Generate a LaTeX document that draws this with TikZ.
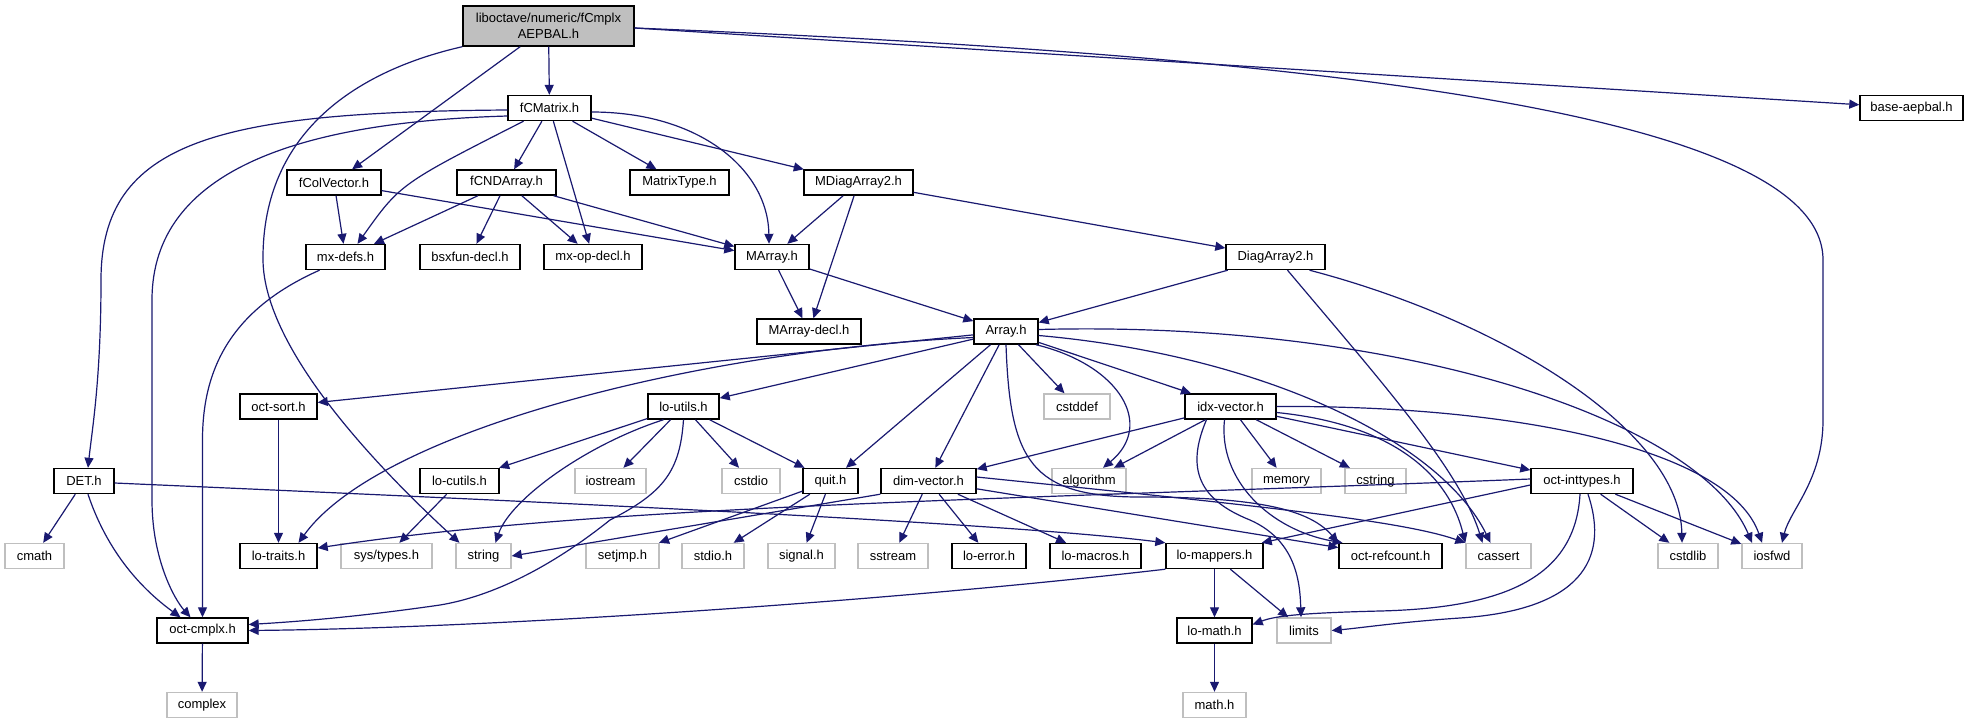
\documentclass[tikz,border=0pt]{standalone}
\usepackage{fontspec}
\setmainfont{Liberation Sans}
\usetikzlibrary{arrows.meta}
\definecolor{edgec}{HTML}{191970}
\definecolor{sysgray}{HTML}{BFBFBF}
\definecolor{rootfill}{HTML}{BFBFBF}
\begin{document}
\begin{tikzpicture}[x=0.5pt,y=-0.5pt,
  box/.style={draw=black, line width=0.7pt, rectangle, inner sep=0pt, minimum height=12.5pt,
    font=\fontsize{6.5}{8}\selectfont, fill=white},
  sys/.style={box, draw=sysgray},
  bw/.style={minimum width=#1*0.5pt},
  dep/.style={draw=edgec, line width=0.6pt, -{Triangle[length=5pt,width=4.5pt]}},
]
\useasboundingbox (0,0) rectangle (1969,724);
\fill[white] (0,0) rectangle (1969,724);

% row 0
\node[box, fill=rootfill, bw=171, minimum height=20pt, align=center] (root) at (548.5,26) {liboctave/numeric/fCmplx\\AEPBAL.h};
% row 1
\node[box, bw=83]  (fCMatrix) at (549.5,108) {fCMatrix.h};
\node[box, bw=103] (base) at (1911.5,108) {base-aepbal.h};
% row 2
\node[box, bw=94]  (fColVector) at (334,182.5) {fColVector.h};
\node[box, bw=99]  (fCNDArray) at (506.5,182.5) {fCNDArray.h};
\node[box, bw=99]  (MatrixType) at (679.5,182.5) {MatrixType.h};
\node[box, bw=109] (MDiagArray2) at (858.5,182.5) {MDiagArray2.h};
% row 3
\node[box, bw=79]  (mxdefs) at (345.5,257) {mx-defs.h};
\node[box, bw=100] (bsxfun) at (470,257) {bsxfun-decl.h};
\node[box, bw=98]  (mxop) at (593,257) {mx-op-decl.h};
\node[box, bw=74]  (MArray) at (772,257) {MArray.h};
\node[box, bw=99]  (DiagArray2) at (1275.5,257) {DiagArray2.h};
% row 4
\node[box, bw=104] (MArraydecl) at (809,331.5) {MArray-decl.h};
\node[box, bw=64]  (Array) at (1006,331.5) {Array.h};
% row 5
\node[box, bw=77]  (octsort) at (278.5,406.5) {oct-sort.h};
\node[box, bw=71]  (loutils) at (683.5,406.5) {lo-utils.h};
\node[sys, bw=66]  (cstddef) at (1077,406.5) {cstddef};
\node[box, bw=91]  (idx) at (1230.5,406.5) {idx-vector.h};
% row 6
\node[box, bw=60]  (DET) at (84,481) {DET.h};
\node[box, bw=79]  (locutils) at (459.5,481) {lo-cutils.h};
\node[sys, bw=71]  (iostream) at (610.5,481) {iostream};
\node[sys, bw=58]  (cstdio) at (751,481) {cstdio};
\node[box, bw=55]  (quit) at (830.5,481) {quit.h};
\node[box, bw=95]  (dimv) at (928.5,481) {dim-vector.h};
\node[sys, bw=74]  (algorithm) at (1089,481) {algorithm};
\node[sys, bw=69]  (memory) at (1286.5,481) {memory};
\node[sys, bw=61]  (cstring) at (1375.5,481) {cstring};
\node[box, bw=102] (inttypes) at (1582,481) {oct-inttypes.h};
% row 7
\node[sys, bw=59]  (cmath) at (34.5,556) {cmath};
\node[box, bw=77]  (lotraits) at (278.5,556) {lo-traits.h};
\node[sys, bw=91]  (systypes) at (386.5,556) {sys/types.h};
\node[sys, bw=55]  (string) at (483.5,556) {string};
\node[sys, bw=73]  (setjmp) at (622.5,556) {setjmp.h};
\node[sys, bw=62]  (stdio) at (713,556) {stdio.h};
\node[sys, bw=67]  (signal) at (801.5,556) {signal.h};
\node[sys, bw=70]  (sstream) at (893,556) {sstream};
\node[box, bw=74]  (loerror) at (989,556) {lo-error.h};
\node[box, bw=91]  (lomacros) at (1095.5,556) {lo-macros.h};
\node[box, bw=97]  (lomappers) at (1214.5,556) {lo-mappers.h};
\node[box, bw=103] (refcount) at (1390.5,556) {oct-refcount.h};
\node[sys, bw=65]  (cassert) at (1498.5,556) {cassert};
\node[sys, bw=60]  (cstdlib) at (1688,556) {cstdlib};
\node[sys, bw=60]  (iosfwd) at (1772,556) {iosfwd};
% row 8
\node[box, bw=91]  (cmplx) at (202.5,630.5) {oct-cmplx.h};
\node[box, bw=75]  (lomath) at (1214.5,630.5) {lo-math.h};
\node[sys, bw=54]  (limits) at (1304,630.5) {limits};
% row 9
\node[sys, bw=70]  (complex) at (202,705) {complex};
\node[sys, bw=63]  (mathh) at (1214.5,705) {math.h};

% ---- edges ----
% root
\draw[dep] (root) -- (fCMatrix);
\draw[dep] (root) -- (fColVector);
\draw[dep] (root.south west) .. controls (360,70) and (262,130) .. (263,260)
   .. controls (264,350) and (380,470) .. ([xshift=-12pt]string.north);
\draw[dep] ([yshift=-1pt]root.east) -- (base);
\draw[dep] ([yshift=-1pt]root.east) .. controls (1300,55) and (1823,110) .. (1823,260)
   -- (1823,420) .. controls (1823,480) and (1790,510) .. ([xshift=5pt]iosfwd.north);
% fCMatrix
\draw[dep] ([yshift=-1pt]fCMatrix.west) .. controls (220,112) and (101,140) .. (101,280)
   .. controls (101,380) and (92,430) .. ([xshift=2pt]DET.north);
\draw[dep] ([yshift=-4pt]fCMatrix.west) .. controls (300,122) and (152,170) .. (152,300)
   -- (152,500) .. controls (152,560) and (175,600) .. ([xshift=-6pt]cmplx.north);
\draw[dep] (fCMatrix) .. controls (400,184) .. ([xshift=6pt]mxdefs.north);
\draw[dep] (fCMatrix) -- (fCNDArray);
\draw[dep] (fCMatrix) -- (mxop);
\draw[dep] (fCMatrix) -- (MatrixType);
\draw[dep] (fCMatrix) -- (MDiagArray2);
\draw[dep] ([yshift=-2pt]fCMatrix.east) .. controls (700,112) and (768,170) .. ([xshift=-1.5pt]MArray.north);
% fColVector
\draw[dep] (fColVector) -- (mxdefs);
\draw[dep] (fColVector) -- (MArray);
% fCNDArray
\draw[dep] (fCNDArray) -- (mxdefs);
\draw[dep] (fCNDArray) -- (bsxfun);
\draw[dep] (fCNDArray) -- (mxop);
\draw[dep] (fCNDArray) -- (MArray);
% MDiagArray2
\draw[dep] (MDiagArray2) -- (MArray);
\draw[dep] (MDiagArray2) -- (MArraydecl);
\draw[dep] (MDiagArray2) -- (DiagArray2);
% MArray
\draw[dep] (MArray) -- (MArraydecl);
\draw[dep] (MArray) -- (Array);
% DiagArray2
\draw[dep] (DiagArray2) -- (Array);
\draw[dep] ([xshift=6pt]DiagArray2.south) .. controls (1380,380) and (1460,470) .. ([xshift=-8pt]cassert.north);
\draw[dep] ([xshift=17pt]DiagArray2.south) .. controls (1500,320) and (1680,430) .. ([xshift=-3pt]cstdlib.north);
% mx-defs
\draw[dep] ([xshift=-13pt]mxdefs.south) .. controls (230,310) and (202.5,370) .. (202.5,440) -- (cmplx.north);
% Array
\draw[dep] (Array) -- (octsort);
\draw[dep] ([yshift=-3pt]Array.west) .. controls (700,350) and (380,430) .. ([xshift=10pt]lotraits.north);
\draw[dep] (Array) -- (loutils);
\draw[dep] (Array) -- (quit);
\draw[dep] (Array) -- (dimv);
\draw[dep] (Array) -- (cstddef);
\draw[dep] ([xshift=15pt]Array.south) .. controls (1120,365) and (1155,425) .. ([xshift=7pt]algorithm.north);
\draw[dep] (Array) -- (idx);
\draw[dep] ([yshift=-2pt]Array.east) .. controls (1260,355) and (1440,440) .. ([xshift=-4pt]cassert.north);
\draw[dep] ([yshift=1pt]Array.east) .. controls (1400,320) and (1700,420) .. ([xshift=-10pt]iosfwd.north);
\draw[dep] (Array.south) .. controls (1010,460) and (1030,497) .. (1140,497)
   .. controls (1260,497) and (1310,510) .. (refcount.north west);
% idx-vector
\draw[dep] (idx) -- (dimv);
\draw[dep] (idx) -- (algorithm);
\draw[dep] (idx) -- (memory);
\draw[dep] (idx) -- (cstring);
\draw[dep] (idx) -- (inttypes);
\draw[dep] (idx.east) .. controls (1520,405) and (1730,450) .. ([xshift=-5pt]iosfwd.north);
\draw[dep] ([yshift=-3pt]idx.east) .. controls (1400,425) and (1450,480) .. (cassert.north west);
\draw[dep] ([xshift=-3pt]idx.south) .. controls (1218,480) and (1270,530) .. ([xshift=-24pt]refcount.north);
\draw[dep] ([xshift=-12pt]idx.south) .. controls (1185,470) and (1200,500) .. (1250,520)
   .. controls (1295,540) and (1300,580) .. ([xshift=-1.5pt]limits.north);
% dim-vector
\draw[dep] (dimv.south west) -- (string.east);
\draw[dep] (dimv) -- (sstream);
\draw[dep] (dimv) -- (loerror);
\draw[dep] (dimv) -- (lomacros);
\draw[dep] (dimv) -- (refcount);
\draw[dep] ([yshift=2pt]dimv.east) .. controls (1250,505) and (1400,520) .. (cassert.north west);
% quit
\draw[dep] (quit) -- (setjmp);
\draw[dep] (quit) -- (stdio);
\draw[dep] (quit) -- (signal);
% lo-utils
\draw[dep] (loutils) -- (locutils);
\draw[dep] ([xshift=-10pt]loutils.south) .. controls (585,445) and (510,500) .. ([xshift=6pt]string.north);
\draw[dep] (loutils) -- (iostream);
\draw[dep] (loutils) -- (cstdio);
\draw[dep] (loutils) -- (quit);
\draw[dep] (loutils.south) .. controls (680,470) and (665,492) .. (610,520)
   .. controls (560,560) and (500,595) .. (440,605)
   .. controls (350,618) and (290,622) .. ([yshift=3pt]cmplx.east);
% others
\draw[dep] (locutils) -- (systypes);
\draw[dep] (octsort) -- (lotraits);
\draw[dep] (DET) -- (cmath);
\draw[dep] ([xshift=2pt]DET.south) .. controls (110,560) and (150,595) .. ([xshift=-11pt]cmplx.north);
\draw[dep] ([yshift=-1pt]DET.east) .. controls (500,500) and (1000,522) .. (lomappers.north west);
% oct-inttypes
\draw[dep] ([yshift=1pt]inttypes.west) .. controls (1000,500) and (600,505) .. ([yshift=4pt]lotraits.east);
\draw[dep] ([yshift=-2pt]inttypes.west) -- ([xshift=-1pt]lomappers.north east);
\draw[dep] (inttypes) -- (cstdlib);
\draw[dep] (inttypes) -- (iosfwd);
\draw[dep] ([xshift=-1pt]inttypes.south) .. controls (1575,580) and (1500,608) .. (1380,611)
   .. controls (1300,613) and (1275,616) .. ([yshift=3pt]lomath.east);
\draw[dep] ([xshift=3pt]inttypes.south) .. controls (1610,560) and (1580,610) .. (1460,618)
   .. controls (1400,622) and (1360,628) .. (limits.east);
% lo-mappers
\draw[dep] (lomappers.south west) .. controls (900,600) and (500,628) .. (cmplx.east);
\draw[dep] (lomappers) -- (lomath);
\draw[dep] (lomappers) -- (limits);
\draw[dep] (lomath) -- (mathh);
\draw[dep] (cmplx) -- (complex);
\end{tikzpicture}
\end{document}
